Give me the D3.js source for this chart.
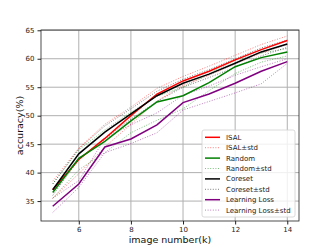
<!DOCTYPE html>
<html>
<head>
<meta charset="utf-8">
<script src="https://cdn.jsdelivr.net/npm/d3@7"></script>
<style>
body { margin: 0; background: #fff; }
svg { font-family: "DejaVu Sans", sans-serif; }
</style>
</head>
<body>
<div class="chart"></div>
<script>
var imageK = [5, 6, 7, 8, 9, 10, 11, 12, 13, 14];
var yTicks = [35, 40, 45, 50, 55, 60, 65];
var xTicks = [6, 8, 10, 12, 14];

var isal      = [37.0, 42.3, 46.0, 50.0, 53.8, 56.1, 57.8, 59.8, 61.6, 63.2];
var isalUp    = [38.5, 44.3, 48.5, 51.5, 54.8, 56.9, 58.7, 60.6, 62.5, 64.0];
var isalLo    = [35.5, 39.8, 44.5, 48.5, 52.6, 55.3, 57.1, 59.1, 61.0, 62.5];
var random    = [36.5, 42.5, 45.5, 49.1, 52.4, 53.5, 55.8, 58.6, 60.2, 61.2];
var randomUp  = [38.0, 44.0, 47.5, 50.6, 53.4, 55.0, 57.4, 59.7, 61.0, 61.8];
var randomLo  = [35.5, 40.5, 43.5, 47.0, 49.2, 51.2, 54.4, 57.4, 59.4, 60.5];
var coreset   = [37.0, 43.3, 47.1, 50.3, 53.5, 55.7, 57.3, 59.2, 61.2, 62.6];
var coresetUp = [38.0, 44.2, 48.2, 51.2, 54.3, 56.4, 58.1, 60.0, 61.9, 63.3];
var coresetLo = [36.0, 42.3, 46.0, 49.4, 52.5, 55.0, 56.7, 58.5, 60.5, 62.0];
var lloss     = [34.1, 38.0, 44.5, 45.9, 48.4, 52.3, 53.8, 55.7, 57.8, 59.5];
var llossUp   = [35.5, 38.6, 46.0, 48.4, 50.5, 53.6, 55.2, 57.1, 58.6, 60.0];
var llossLo   = [33.0, 37.4, 43.5, 45.1, 47.0, 51.0, 52.5, 54.0, 55.6, 59.2];

var series = [
  {name: "ISAL", color: "#ff0000", mean: isal, up: isalUp, lo: isalLo},
  {name: "Random", color: "#008000", mean: random, up: randomUp, lo: randomLo},
  {name: "Coreset", color: "#000000", mean: coreset, up: coresetUp, lo: coresetLo},
  {name: "Learning Loss", color: "#800080", mean: lloss, up: llossUp, lo: llossLo}
];

var width = 332, height = 249;
var margin = {left: 41, top: 30, right: 33, bottom: 28};
var svg = d3.select(".chart").append("svg")
    .attr("width", width)
    .attr("height", height);

var x = d3.scaleLinear().domain([4.55, 14.45]).range([margin.left, width - margin.right]);
var y = d3.scaleLinear().domain([31.5, 65.05]).range([height - margin.bottom, margin.top]);

// grid
svg.append("g").selectAll("line")
    .data(xTicks).enter().append("line")
    .attr("x1", function(d) { return x(d); }).attr("x2", function(d) { return x(d); })
    .attr("y1", y.range()[0]).attr("y2", y.range()[1])
    .attr("stroke", "#b0b0b0").attr("stroke-width", 1);
svg.append("g").selectAll("line")
    .data(yTicks).enter().append("line")
    .attr("y1", function(d) { return y(d); }).attr("y2", function(d) { return y(d); })
    .attr("x1", x.range()[0]).attr("x2", x.range()[1])
    .attr("stroke", "#b0b0b0").attr("stroke-width", 1);

var line = function(vals) {
  return d3.line()
    .x(function(d, i) { return x(imageK[i]); })
    .y(function(d) { return y(d); })(vals);
};

// std lines first, then means
series.forEach(function(s) {
  [s.up, s.lo].forEach(function(v) {
    svg.append("path")
      .attr("d", line(v))
      .attr("fill", "none")
      .attr("stroke", s.color)
      .attr("stroke-opacity", 0.5)
      .attr("stroke-width", 1)
      .attr("stroke-dasharray", "1,1.6");
  });
});
series.forEach(function(s) {
  svg.append("path")
    .attr("d", line(s.mean))
    .attr("fill", "none")
    .attr("stroke", s.color)
    .attr("stroke-width", 1.5);
});

// axes
var xAxis = svg.append("g")
    .attr("transform", "translate(0," + y.range()[0] + ")")
    .call(d3.axisBottom(x).tickValues(xTicks).tickSize(3.5).tickPadding(3));
var yAxis = svg.append("g")
    .attr("transform", "translate(" + x.range()[0] + ",0)")
    .call(d3.axisLeft(y).tickValues(yTicks).tickSize(3.5).tickPadding(3));
[xAxis, yAxis].forEach(function(a) {
  a.select(".domain").remove();
  a.selectAll("text").attr("font-size", 7).attr("fill", "#222").attr("font-family", "DejaVu Sans");
  a.selectAll("line").attr("stroke", "#222");
});

// frame
svg.append("rect")
    .attr("x", x.range()[0]).attr("y", y.range()[1])
    .attr("width", x.range()[1] - x.range()[0])
    .attr("height", y.range()[0] - y.range()[1])
    .attr("fill", "none").attr("stroke", "#222").attr("stroke-width", 0.8);

svg.append("text")
    .attr("x", (x.range()[0] + x.range()[1]) / 2).attr("y", 243)
    .attr("text-anchor", "middle").attr("font-size", 9.5).attr("fill", "#111")
    .text("image number(k)");
svg.append("text")
    .attr("transform", "translate(23," + ((y.range()[0] + y.range()[1]) / 2) + ") rotate(-90)")
    .attr("text-anchor", "middle").attr("font-size", 9.5).attr("fill", "#111")
    .text("accuracy(%)");

// legend
var legendItems = [];
series.forEach(function(s) {
  legendItems.push({label: s.name, color: s.color, dashed: false});
  legendItems.push({label: s.name + "\u00b1std", color: s.color, dashed: true});
});
var lg = svg.append("g").attr("transform", "translate(202,130)");
lg.append("rect")
    .attr("width", 93).attr("height", 87).attr("rx", 2)
    .attr("fill", "#fff").attr("fill-opacity", 0.8)
    .attr("stroke", "#d0d0d0").attr("stroke-width", 0.8);
var item = lg.selectAll(".item")
    .data(legendItems).enter().append("g")
    .attr("transform", function(d, i) { return "translate(0," + (7.3 + i * 10.4) + ")"; });
item.append("line")
    .attr("x1", 3).attr("x2", 18)
    .attr("stroke", function(d) { return d.color; })
    .attr("stroke-opacity", function(d) { return d.dashed ? 0.5 : 1; })
    .attr("stroke-width", function(d) { return d.dashed ? 1 : 1.5; })
    .attr("stroke-dasharray", function(d) { return d.dashed ? "1,1.6" : null; });
item.append("text")
    .attr("x", 24).attr("dy", "0.35em")
    .attr("font-size", 7).attr("fill", "#222")
    .text(function(d) { return d.label; });
</script>
</body>
</html>
